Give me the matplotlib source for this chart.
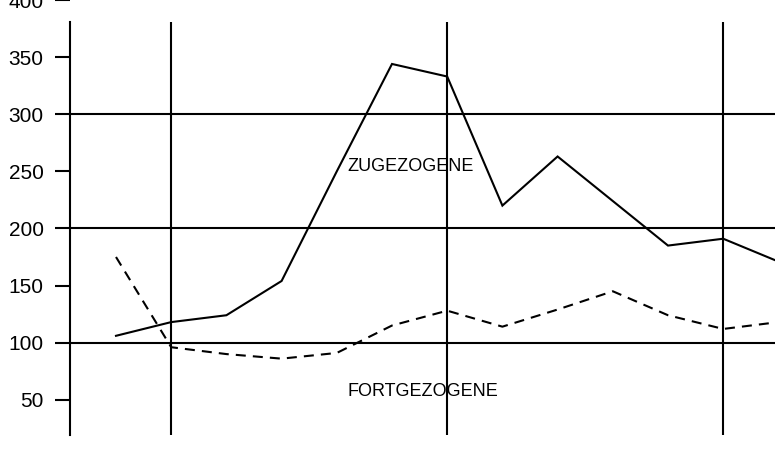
import matplotlib
matplotlib.use("Agg")
import matplotlib.pyplot as plt

# Data
periods = list(range(13))
zugezogene = [106, 118, 124, 154, 250, 344, 333, 220, 263, 224, 185, 191, 171]
fortgezogene = [175, 96, 90, 86, 91, 115, 128, 114, 129, 145, 124, 112, 118]
y_ticks = [50, 100, 150, 200, 250, 300, 350, 400]
h_lines = [100, 200, 300]
v_lines = [1, 6, 11]
label_top = "ZUGEZOGENE"
label_bottom = "FORTGEZOGENE"

plt.rcParams['font.family'] = ['Liberation Sans', 'DejaVu Sans']

W, H = 775, 449
fig = plt.figure(figsize=(W / 100, H / 100), dpi=100)
ax = fig.add_axes([70 / W, 0, (W - 70) / W, 1])

# pixel mapping: x_pix = 116 + 55.2*i ; value = 100 + (341 - y_pix)/1.16
ax.set_xlim((70 - 116) / 55.2, (775 - 116) / 55.2)
ax.set_ylim(100 + (341 - 449) / 1.16, 100 + 341 / 1.16)

lw = 1.5
for s in ['top', 'right', 'bottom']:
    ax.spines[s].set_visible(False)
ax.spines['left'].set_linewidth(lw)
ax.spines['left'].set_bounds(19, 381)
ax.set_xticks([])
ax.set_yticks(y_ticks)
ax.set_yticklabels([str(v) for v in y_ticks])
ax.tick_params(axis='y', direction='out', length=11, width=lw, pad=8,
               labelsize=15, colors='black')

for h in h_lines:
    ax.axhline(h, color='black', lw=lw, zorder=1)
for v in v_lines:
    ax.vlines(v, 19, 381, color='black', lw=lw, zorder=1)

ax.plot(periods, zugezogene, color='black', lw=lw, solid_joinstyle='miter',
        clip_on=True, zorder=3)
ax.plot(periods, fortgezogene, color='black', lw=lw, dashes=(4.8, 3.4),
        clip_on=True, zorder=3)

ax.text(4.2, 254, label_top, fontsize=13, ha='left', va='center', zorder=4)
ax.text(4.2, 57, label_bottom, fontsize=13, ha='left', va='center', zorder=4)

fig.savefig("out.png", dpi=100)
